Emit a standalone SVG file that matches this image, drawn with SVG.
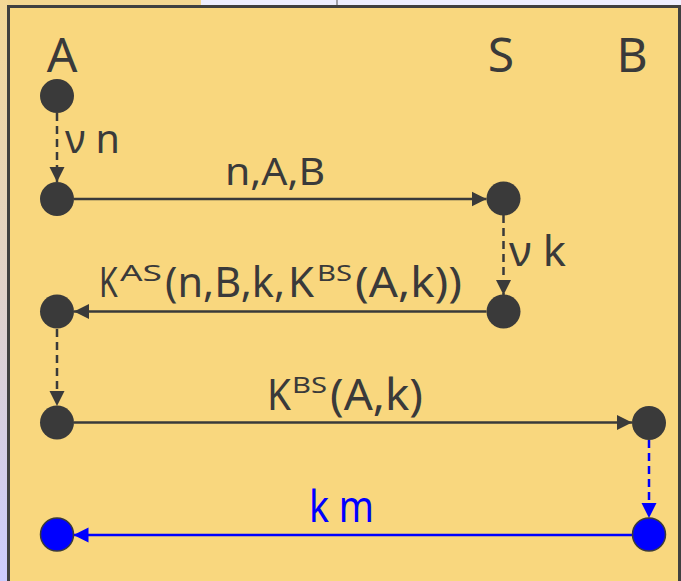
<svg xmlns="http://www.w3.org/2000/svg" width="681" height="581" viewBox="0 0 681 581">
  <defs>
    <linearGradient id="leftStrip" x1="0" y1="0" x2="0" y2="1">
      <stop offset="0" stop-color="#F4D896"/>
      <stop offset="1" stop-color="#CCCCFF"/>
    </linearGradient>
    <marker id="arrDark" markerUnits="userSpaceOnUse" markerWidth="16" markerHeight="16" viewBox="0 0 16 16" refX="15" refY="8" orient="auto">
      <path d="M0,0.5 L15,8 L0,15.5 Z" fill="#3A3A3A"/>
    </marker>
    <marker id="arrBlue" markerUnits="userSpaceOnUse" markerWidth="16" markerHeight="16" viewBox="0 0 16 16" refX="15" refY="8" orient="auto">
      <path d="M0,0.5 L15,8 L0,15.5 Z" fill="#0000FF"/>
    </marker>
    <style>
      .lbl { font-family: "Noto Sans", "DejaVu Sans", sans-serif; fill: #3A3A3A; }
      .blue { fill: #0000FF; }
      .node { fill: #3A3A3A; }
      .bnode { fill: #0000FF; stroke: #3A3A3A; stroke-width: 1.5; }
      .solid { stroke: #3A3A3A; stroke-width: 2.5; fill: none; marker-end: url(#arrDark); }
      .dash { stroke: #3A3A3A; stroke-width: 2.5; fill: none; stroke-dasharray: 8 5; marker-end: url(#arrDark); }
      .bsolid { stroke: #0000FF; stroke-width: 2.5; fill: none; marker-end: url(#arrBlue); }
      .bdash { stroke: #0000FF; stroke-width: 2.5; fill: none; stroke-dasharray: 8 5; marker-end: url(#arrBlue); }
    </style>
  </defs>

  <!-- surroundings -->
  <rect x="0" y="0" width="681" height="581" fill="#EEEEFF"/>
  <rect x="0" y="0" width="201" height="8" fill="#F4D791"/>
  <rect x="0" y="0" width="8" height="581" fill="url(#leftStrip)"/>
  <line x1="337" y1="0" x2="337" y2="6" stroke="#A0A0A8" stroke-width="2"/>

  <!-- frame -->
  <rect x="8.5" y="6.5" width="671" height="600" fill="#F9D77E" stroke="#404040" stroke-width="3"/>

  <!-- column headers -->
  <g id="headers">
    <text class="lbl" x="62" y="72" font-size="48" text-anchor="middle">A</text>
    <text class="lbl" x="501" y="72" font-size="48" text-anchor="middle">S</text>
    <text class="lbl" x="632" y="72" font-size="48" text-anchor="middle">B</text>
  </g>

  <!-- connectors -->
  <g id="connectors">
    <line class="dash" x1="57" y1="113" x2="57" y2="182"/>
    <line class="solid" x1="74" y1="199" x2="486.5" y2="199"/>
    <line class="dash" x1="503.5" y1="215" x2="503.5" y2="295"/>
    <line class="solid" x1="486.5" y1="311.5" x2="74" y2="311.5"/>
    <line class="dash" x1="57" y1="329" x2="57" y2="406"/>
    <line class="solid" x1="74" y1="422.5" x2="632" y2="422.5"/>
    <line class="bdash" x1="649" y1="440" x2="649" y2="518"/>
    <line class="bsolid" x1="632" y1="535" x2="73.5" y2="535"/>
  </g>

  <!-- labels on connectors -->
  <g id="labels">
    <text class="lbl" x="65" y="153" font-size="40" textLength="55" lengthAdjust="spacingAndGlyphs">ν n</text>
    <text class="lbl" x="225" y="185" font-size="38" textLength="100" lengthAdjust="spacingAndGlyphs">n,A,B</text>
    <text class="lbl" x="509" y="266" font-size="42" textLength="57" lengthAdjust="spacingAndGlyphs">ν k</text>
    <text class="lbl" font-size="42" transform="translate(99,297) scale(0.72,1)">K</text>
    <text class="lbl" font-size="42">
      <tspan x="120" y="281" font-size="21" textLength="42" lengthAdjust="spacingAndGlyphs">AS</tspan><tspan x="165" y="297" textLength="120" lengthAdjust="spacingAndGlyphs">(n,B,k,</tspan><tspan x="288" y="297" textLength="26" lengthAdjust="spacingAndGlyphs">K</tspan><tspan x="317" y="281" font-size="21" textLength="35" lengthAdjust="spacingAndGlyphs">BS</tspan><tspan x="355" y="297" textLength="107" lengthAdjust="spacingAndGlyphs">(A,k))</tspan>
    </text>
    <text class="lbl" font-size="44">
      <tspan x="267" y="410" textLength="24" lengthAdjust="spacingAndGlyphs">K</tspan><tspan x="292" y="393" font-size="21" textLength="35" lengthAdjust="spacingAndGlyphs">BS</tspan><tspan x="330" y="410" textLength="93" lengthAdjust="spacingAndGlyphs">(A,k)</tspan>
    </text>
    <text class="lbl blue" x="309" y="522" font-size="44" textLength="65" lengthAdjust="spacingAndGlyphs">k m</text>
  </g>

  <!-- nodes -->
  <g id="nodeA1"><circle class="node" cx="57" cy="96" r="17"/></g>
  <g id="nodeA2"><circle class="node" cx="57" cy="199" r="17"/></g>
  <g id="nodeS1"><circle class="node" cx="503.5" cy="198.5" r="17"/></g>
  <g id="nodeS2"><circle class="node" cx="503.5" cy="311.5" r="17"/></g>
  <g id="nodeA3"><circle class="node" cx="57" cy="311.5" r="17"/></g>
  <g id="nodeA4"><circle class="node" cx="57" cy="422.5" r="17"/></g>
  <g id="nodeB1"><circle class="node" cx="649" cy="423" r="17"/></g>
  <g id="nodeB2"><circle class="bnode" cx="649" cy="534.5" r="16.5"/></g>
  <g id="nodeA5"><circle class="bnode" cx="57" cy="534.5" r="16.5"/></g>
</svg>
